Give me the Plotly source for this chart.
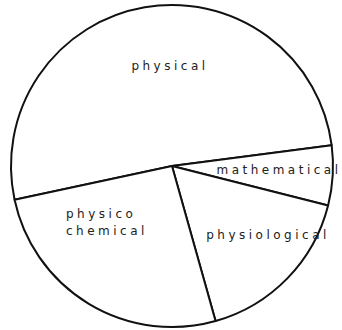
import plotly.graph_objects as go

# Share of each branch, listed clockwise starting with the largest slice
labels = ["physical", "mathematical", "physiological", "physico chemical"]
values = [51.3, 6.0, 16.7, 26.0]

# Label lines with their anchor points in paper coordinates (x, y, xanchor)
label_lines = [
    ("physical", 169.5 / 342, 1 - 65.5 / 330, "center"),
    ("mathematical", 279 / 342, 1 - 170 / 330, "center"),
    ("physiological", 268 / 342, 1 - 235 / 330, "center"),
    ("physico", 64 / 342, 1 - 214 / 330, "left"),
    ("chemical", 64 / 342, 1 - 231 / 330, "left"),
]

fig = go.Figure(
    go.Pie(
        labels=labels,
        values=values,
        sort=False,
        direction="clockwise",
        rotation=-102.1,
        textinfo="none",
        hoverinfo="skip",
        marker=dict(colors=["white"] * len(labels), line=dict(color="#111111", width=2)),
        domain=dict(x=[11 / 342, 333 / 342], y=[3 / 330, 325 / 330]),
        showlegend=False,
    )
)

for text, x, y, anchor in label_lines:
    fig.add_annotation(
        x=x, y=y, xref="paper", yref="paper",
        text=text,
        showarrow=False,
        width=150,
        xanchor=anchor, yanchor="middle", align=anchor,
        font=dict(family="DejaVu Sans", size=12, color="#222222"),
    )

fig.update_layout(
    width=342, height=330,
    margin=dict(l=0, r=0, t=0, b=0),
    paper_bgcolor="white",
    plot_bgcolor="white",
)

# Widen the lettering of the slice labels
spacing_js = """
document.querySelectorAll('.annotation-text').forEach(function (t) {
    t.style.letterSpacing = '3.5px';
});
"""

fig.write_html("out.html", config={"displayModeBar": False}, post_script=spacing_js)
